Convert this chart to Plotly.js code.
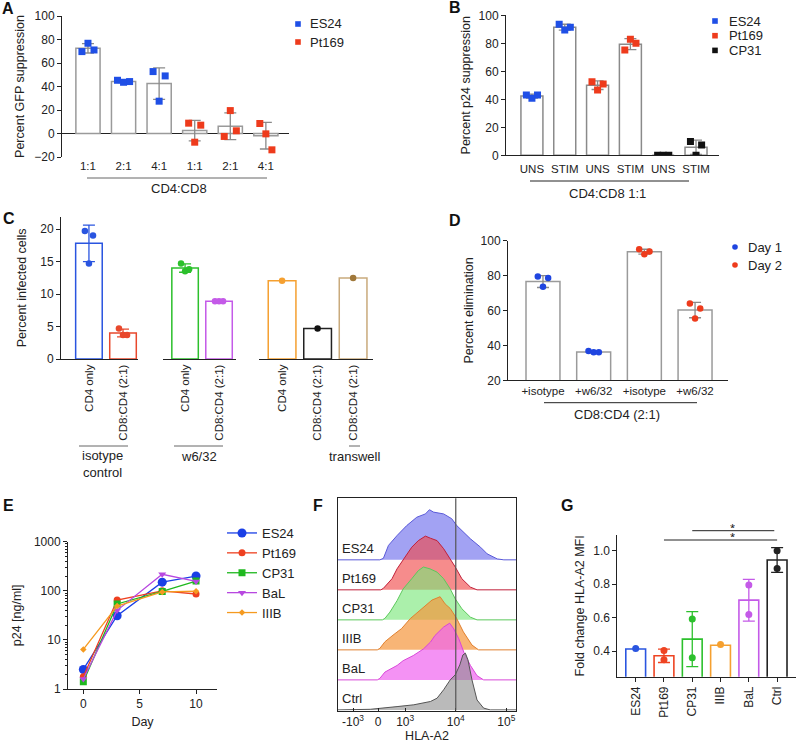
<!DOCTYPE html>
<html><head><meta charset="utf-8">
<script src="https://cdn.plot.ly/plotly-3.0.1.min.js"></script>
<style>html,body{margin:0;padding:0;background:#fff}#chart{width:796px;height:747px}</style>
</head><body><div id="chart"></div>
<script>
// ---------------- DATA ----------------
// Panel A
const aCats   = ['1:1','2:1','4:1','1:1','2:1','4:1'];
const aGroup  = ['ES24','ES24','ES24','Pt169','Pt169','Pt169'];
const aSeries = ['ES24','Pt169'];
const aMean   = [72.5, 44.3, 42.5, 2.5, 6.2, -1.9];
const aSD     = [4.0, 1.0, 13.4, 8.7, 11.4, 11.3];
const aPoints = [[69.7,76.8,71.1],[45.3,43.6,44.2],[52.7,27.5,49.0],[8.8,-7.4,7.1],[-2.5,19.5,2.3],[8.5,-0.3,-13.9]];
// Panel B
const bCats   = ['UNS','STIM','UNS','STIM','UNS','STIM'];
const bGroup  = ['ES24','ES24','Pt169','Pt169','CP31','CP31'];
const bSeries = ['ES24','Pt169','CP31'];
const bMean   = [42.3, 91.5, 50.1, 79.4, 0, 5.7];
const bSD     = [1.4, 2.1, 3.1, 3.9, 0, 5.1];
const bPoints = [[43.1,40.7,43.1],[93.6,89.5,91.4],[52.6,46.7,51.0],[75.2,82.9,80.0],[0,0,0],[9.8,0,7.4]];
// Panel C
const cCats   = ['CD4 only','CD8:CD4 (2:1)','CD4 only','CD8:CD4 (2:1)','CD4 only','CD8:CD4 (2:1)','CD8:CD4 (2:1)'];
const cGroup  = ['isotype control','w6/32','transwell'];
const cOfBar  = ['isotype control','isotype control','w6/32','w6/32','transwell','transwell','transwell'];
const cMean   = [17.8, 4.0, 14.0, 8.9, 12.05, 4.7, 12.45];
const cSD     = [2.8, 0.6, 0.65, 0, 0, 0, 0];
const cPoints = [[19.7,14.7,19.0],[4.7,3.7,3.7],[14.7,13.5,13.8],[8.9,8.9,8.9],[12.05],[4.7],[12.45]];
// Panel D
const dCats   = ['+isotype','+w6/32','+isotype','+w6/32'];
const dDay    = ['Day 1','Day 1','Day 2','Day 2'];
const dSeries = ['Day 1','Day 2'];
const dMean   = [76.5, 36.2, 93.6, 60.2];
const dSD     = [3.4, 0.4, 1.4, 4.4];
const dPoints = [[79.4,73.5,78.6],[36.7,36.0,36.0],[95.0,92.2,93.7],[64.0,55.4,61.1]];
// Panel E
const eDays   = [0, 3, 7, 10];
const eNames  = ['ES24','Pt169','CP31','BaL','IIIB'];
const eES24   = [2.5, 31, 150, 200];
const ePt169  = [1.78, 65, 100, 86];
const eCP31   = [1.4, 54, 97, 158];
const eBaL    = [1.6, 40, 217, 155];
const eIIIB   = [6.4, 49, 95, 98];
// Panel F (x: log10 HLA-A2 display units, h: normalized to mode, in row units)
const fNames  = ['ES24','Pt169','CP31','IIIB','BaL','Ctrl'];
const fES24x  = [1.673,2.50,2.57,2.67,2.84,3.03,3.23,3.40,3.48,3.56,3.76,3.92,4.02,4.16,4.29,4.49,4.62,4.82,4.95,5.19];
const fES24h  = [0,0,0.05,0.48,0.81,1.14,1.42,1.53,1.67,1.59,1.53,1.37,1.14,0.92,0.70,0.42,0.20,0.03,0,0];
const fPt169x = [1.673,2.52,2.57,2.74,2.84,2.97,3.13,3.26,3.40,3.50,3.63,3.76,3.89,3.99,4.12,4.29,4.42,5.19];
const fPt169h = [0,0,0.05,0.37,0.70,1.03,1.42,1.64,1.79,1.72,1.64,1.37,1.03,0.76,0.37,0.09,0,0];
const fCP31x  = [1.673,2.55,2.60,2.70,2.84,2.96,3.13,3.26,3.36,3.49,3.63,3.76,3.89,3.99,4.12,4.29,4.42,5.19];
const fCP31h  = [0,0,0.05,0.26,0.64,1.03,1.37,1.64,1.76,1.70,1.59,1.37,1.03,0.70,0.37,0.09,0,0];
const fIIIBx  = [1.673,2.45,2.50,2.60,2.76,2.93,3.10,3.26,3.40,3.53,3.69,3.79,3.89,4.02,4.15,4.32,4.45,5.19];
const fIIIBh  = [0,0,0.05,0.27,0.49,0.71,1.04,1.27,1.48,1.66,1.77,1.53,1.38,1.04,0.60,0.16,0,0];
const fBaLx   = [1.673,2.45,2.50,2.60,2.84,2.96,3.16,3.36,3.50,3.59,3.76,3.88,3.96,4.06,4.16,4.29,4.42,4.55,5.19];
const fBaLh   = [0,0,0.05,0.26,0.48,0.64,0.81,1.03,1.26,1.48,1.76,1.89,1.70,1.37,0.92,0.48,0.14,0,0];
const fCtrlx  = [1.673,2.31,2.84,3.17,3.50,3.63,3.76,3.89,3.99,4.08,4.14,4.19,4.24,4.32,4.42,4.55,4.68,5.19];
const fCtrlh  = [0,0.02,0.11,0.17,0.28,0.39,0.67,1.00,1.17,1.50,1.83,1.89,1.67,1.00,0.33,0.06,0,0];
const fTickVals = [1.97, 2.465, 3, 4, 5];
const fTickText = ['-10<sup>3</sup>','0','10<sup>3</sup>','10<sup>4</sup>','10<sup>5</sup>'];
const fGate   = 4;
// Panel G
const gCats   = ['ES24','Pt169','CP31','IIIB','BaL','Ctrl'];
const gMean   = [0.413, 0.372, 0.472, 0.435, 0.705, 0.945];
const gSD     = [0, 0.04, 0.165, 0, 0.125, 0.074];
const gPoints = [[0.416],[0.404,0.349],[0.593,0.36],[0.44],[0.796,0.619],[1.0,0.895]];

// ---------------- STYLE / LAYOUT ----------------
const W = 796, H = 747;
const px = v => v / W, py = v => 1 - v / H;
const FONT = 'Liberation Sans, Arial, sans-serif';
const INK = '#222';
const JIT3 = [-0.17, 0, 0.17];
const jit = (n, j) => n === 3 ? JIT3[j] : 0;
const idx = arr => arr.map((_, i) => i);
const colA = {ES24:'#1f4fe6', Pt169:'#ee3b1c', CP31:'#111111'};
const colD = {'Day 1':'#1f45e0', 'Day 2':'#ee3b1c'};
const cLine = ['#2a55e0','#e8482c','#2cc02c','#c45ae8','#f5a030','#222222','#c9aa7c'];
const cPt   = ['#2a55e0','#e8482c','#2cc02c','#c45ae8','#f5a030','#111111','#a0783a'];
const gCol  = ['#2a55e0','#ee4422','#2cc02c','#f5a030','#c45ae8','#222222'];
const eCol  = {ES24:'#1a3fe6', Pt169:'#ee4020', CP31:'#1fb81f', BaL:'#b848e0', IIIB:'#f59a20'};
const eSym  = {ES24:'circle', Pt169:'circle', CP31:'square', BaL:'triangle-down', IIIB:'diamond'};
const eSize = {ES24:9, Pt169:7, CP31:7, BaL:7, IIIB:5};
const fFill = ['rgba(105,105,235,0.62)','rgba(240,70,70,0.62)','rgba(120,230,120,0.62)','rgba(245,150,60,0.7)','rgba(240,100,240,0.7)','rgba(140,140,140,0.6)'];
const fLine = ['#5a5ad8','#c0203a','#5cc85c','#e08030','#d848d8','#555555'];

const traces = [];
const errStyle = (arr, color) => ({type:'data', array:arr, visible:true, color:color, thickness:1.3, width:6});

// Panel A
traces.push({type:'bar', x:idx(aCats), y:aMean, width:0.68, xaxis:'x', yaxis:'y',
  marker:{color:'white', line:{color:'#9a9a9a', width:1.5}}, error_y:errStyle(aSD,'#8a8a8a'),
  showlegend:false, hoverinfo:'skip'});
aSeries.forEach(s => {
  const xs = [], ys = [];
  aGroup.forEach((g,i) => { if (g===s) aPoints[i].forEach((v,j)=>{ xs.push(i+jit(aPoints[i].length,j)); ys.push(v); }); });
  traces.push({type:'scatter', mode:'markers', name:s, x:xs, y:ys, xaxis:'x', yaxis:'y', showlegend:false,
    marker:{symbol:'square', size:7, color:colA[s]}, hoverinfo:'skip'});
});
// Panel B
traces.push({type:'bar', x:idx(bCats), y:bMean, width:0.67, xaxis:'x2', yaxis:'y2',
  marker:{color:'white', line:{color:'#8a8a8a', width:1.5}}, error_y:errStyle(bSD,'#8a8a8a'),
  showlegend:false, hoverinfo:'skip'});
bSeries.forEach(s => {
  const xs = [], ys = [];
  bGroup.forEach((g,i) => { if (g===s) bPoints[i].forEach((v,j)=>{ xs.push(i+jit(bPoints[i].length,j)); ys.push(v); }); });
  traces.push({type:'scatter', mode:'markers', name:s, x:xs, y:ys, xaxis:'x2', yaxis:'y2', showlegend:false,
    marker:{symbol:'square', size:7, color:colA[s]}, hoverinfo:'skip'});
});
// Panel C
const cAxes = ['x3','x4','x5'];
const cTicks = {x3:[], x4:[], x5:[]};
cCats.forEach((c,i) => {
  const ax = cAxes[cGroup.indexOf(cOfBar[i])];
  const pos = cTicks[ax].length;
  cTicks[ax].push(c);
  traces.push({type:'bar', x:[pos], y:[cMean[i]], width:0.78, xaxis:ax, yaxis:'y3',
    marker:{color:'white', line:{color:cLine[i], width:1.5}},
    error_y:Object.assign(errStyle([cSD[i]], cLine[i]), {visible:cSD[i]>0}), showlegend:false, hoverinfo:'skip'});
  traces.push({type:'scatter', mode:'markers', x:cPoints[i].map((v,j)=>pos+jit(cPoints[i].length,j)*0.7), y:cPoints[i],
    xaxis:ax, yaxis:'y3', marker:{size:6.5, color:cPt[i]}, showlegend:false, hoverinfo:'skip'});
});
// Panel D
traces.push({type:'bar', x:idx(dCats), y:dMean, width:0.67, xaxis:'x6', yaxis:'y6',
  marker:{color:'white', line:{color:'#9a9a9a', width:1.5}}, error_y:errStyle(dSD,'#8a8a8a'),
  showlegend:false, hoverinfo:'skip'});
dSeries.forEach(s => {
  const xs = [], ys = [];
  dDay.forEach((g,i) => { if (g===s) dPoints[i].forEach((v,j)=>{ xs.push(i+jit(dPoints[i].length,j)*0.6); ys.push(v); }); });
  traces.push({type:'scatter', mode:'markers', name:s, x:xs, y:ys, xaxis:'x6', yaxis:'y6', showlegend:false,
    marker:{symbol:'circle', size:6.5, color:colD[s]}, hoverinfo:'skip'});
});
// Panel E
const eSeries = {ES24:eES24, Pt169:ePt169, CP31:eCP31, BaL:eBaL, IIIB:eIIIB};
eNames.forEach(s => {
  traces.push({type:'scatter', mode:'lines+markers', name:s, x:eDays, y:eSeries[s], xaxis:'x7', yaxis:'y7', legend:'legend',
    line:{color:eCol[s], width:1.3}, marker:{symbol:eSym[s], size:eSize[s], color:eCol[s]}});
});
// Panel F
const fXs = [fES24x,fPt169x,fCP31x,fIIIBx,fBaLx,fCtrlx];
const fHs = [fES24h,fPt169h,fCP31h,fIIIBh,fBaLh,fCtrlh];
fNames.forEach((s,i) => {
  const off = fNames.length - 1 - i;
  traces.push({type:'scatter', mode:'lines', x:fXs[i], y:fHs[i].map(h=>h+off), fill:'toself', fillcolor:fFill[i],
    line:{color:fLine[i], width:1}, xaxis:'x8', yaxis:'y8', showlegend:false, hoverinfo:'skip'});
});
// Panel G
gCats.forEach((c,i) => {
  traces.push({type:'bar', x:[i], y:[gMean[i]], width:0.7, xaxis:'x9', yaxis:'y9',
    marker:{color:'white', line:{color:gCol[i], width:1.6}},
    error_y:Object.assign(errStyle([gSD[i]], gCol[i]), {visible:gSD[i]>0}), showlegend:false, hoverinfo:'skip'});
  traces.push({type:'scatter', mode:'markers', x:gPoints[i].map(()=>i), y:gPoints[i], xaxis:'x9', yaxis:'y9',
    marker:{size:7, color:gCol[i]}, showlegend:false, hoverinfo:'skip'});
});

// ---------------- AXES ----------------
const base = {showgrid:false, zeroline:false, showline:true, linecolor:INK, linewidth:1,
  ticks:'outside', ticklen:4, tickcolor:INK, tickwidth:1, tickfont:{size:12, color:INK, family:FONT}};
const catX = (dom, anchor, range, ticktext, extra) => Object.assign({}, base, {domain:dom, anchor:anchor, range:range,
  tickvals:idx(ticktext), ticktext:ticktext, ticks:'', tickfont:{size:11.5, color:INK, family:FONT}}, extra||{});
const ytitle = (t, st) => ({text:t, standoff:st, font:{size:12.5, color:INK, family:FONT}});

const layout = {
  width:W, height:H, margin:{l:0,r:0,t:0,b:0}, paper_bgcolor:'white', plot_bgcolor:'rgba(0,0,0,0)',
  font:{family:FONT, color:INK}, barmode:'overlay',
  // A
  xaxis:  catX([px(62),px(289)], 'y', [-0.73,5.65], aCats, {showline:false}),
  yaxis:  Object.assign({}, base, {domain:[py(157),py(16)], anchor:'x', range:[-20,100], dtick:20,
           zeroline:true, zerolinecolor:INK, zerolinewidth:1, title:ytitle('Percent GFP suppression', 6)}),
  // B
  xaxis2: catX([px(506),px(719)], 'y2', [-0.79,5.7], bCats, {ticklabelstandoff:3}),
  yaxis2: Object.assign({}, base, {domain:[py(155.3),py(15.3)], anchor:'x2', range:[0,100], dtick:20,
           title:ytitle('Percent p24 suppression', 5)}),
  // C
  xaxis3: catX([px(61),px(138)], 'y3', [-0.82,1.44], cTicks.x3, {tickangle:-90}),
  xaxis4: catX([px(163),px(236)], 'y3', [-0.65,1.5], cTicks.x4, {tickangle:-90}),
  xaxis5: catX([px(259),px(373)], 'y3', [-0.65,2.56], cTicks.x5, {tickangle:-90}),
  yaxis3: Object.assign({}, base, {domain:[py(359),py(216.7)], anchor:'x3', range:[0,21.9], dtick:5,
           title:ytitle('Percent infected cells', 10)}),
  // D
  xaxis6: catX([px(508),px(728)], 'y6', [-0.69,3.65], dCats),
  yaxis6: Object.assign({}, base, {domain:[py(380.3),py(240.5)], anchor:'x6', range:[20,100], dtick:20,
           title:ytitle('Percent elimination', 4)}),
  // E
  xaxis7: Object.assign({}, base, {domain:[px(68),px(217)], anchor:'y7', range:[-1.36,11.86], dtick:5, tick0:0,
           title:{text:'Day', font:{size:12.5, color:INK, family:FONT}, standoff:6}}),
  yaxis7: Object.assign({}, base, {domain:[py(689),py(541.7)], anchor:'x7', type:'log', range:[0,3],
           tickvals:[1,10,100,1000], ticktext:['1','10','100','1000'],
           minor:{ticks:'outside', ticklen:2, tickcolor:INK, dtick:'D1'}, title:ytitle('p24 [ng/ml]', 9)}),
  // F
  xaxis8: Object.assign({}, base, {domain:[px(338),px(516)], anchor:'y8', range:[1.673,5.19], mirror:true,
           tickvals:fTickVals, ticktext:fTickText, ticks:'inside', ticklen:3,
           title:{text:'HLA-A2', font:{size:12.5, color:INK, family:FONT}, standoff:2}}),
  yaxis8: Object.assign({}, base, {domain:[py(710.5),py(498.3)], anchor:'x8', range:[-0.02,7.05], mirror:true,
           ticks:'', showticklabels:false}),
  // G
  xaxis9: catX([px(617.3),px(795.5)], 'y9', [-0.65,5.65], gCats, {tickangle:-90, ticks:'outside', ticklen:4, tickfont:{size:12, color:INK, family:FONT}}),
  yaxis9: Object.assign({}, base, {domain:[py(676.7),py(535)], anchor:'x9', range:[0.247,1.095],
           tickvals:[0.4,0.6,0.8,1.0], ticktext:['0.4','0.6','0.8','1.0'], title:ytitle('Fold change HLA-A2 MFI', 5)}),
  // legend for E
  legend: {x:px(222), y:py(518), xanchor:'left', yanchor:'top', font:{size:13, family:FONT, color:INK}, bgcolor:'rgba(0,0,0,0)', itemwidth:30, tracegroupgap:0},
  shapes: [], annotations: []
};

const hline = (x0,x1,y,color) => ({type:'line', xref:'paper', yref:'paper', x0:px(x0), x1:px(x1), y0:py(y), y1:py(y), line:{color:color||INK, width:1}});
const note = (text, x, y, size, opts) => Object.assign({text:text, xref:'paper', yref:'paper', x:px(x), y:py(y),
  showarrow:false, xanchor:'center', yanchor:'middle', font:{size:size, family:FONT, color:INK}}, opts||{});

// hand-placed legends for A, B, D (symbol + label)
const legendKey = (names, colors, kind, xSym, xText, y0, dy) => names.forEach((s,k) => {
  const cx = xSym, cy = y0 + k*dy, r = 2.8;
  layout.shapes.push({type:kind==='square'?'rect':'circle', xref:'paper', yref:'paper',
    x0:px(cx-r), x1:px(cx+r), y0:py(cy+r), y1:py(cy-r), fillcolor:colors[s], line:{width:0}});
  layout.annotations.push(note(s, xText, cy, 13, {xanchor:'left'}));
});
legendKey(aSeries, colA, 'square', 298, 308, 24, 18);
legendKey(bSeries, colA, 'square', 715, 727, 21, 14.7);
legendKey(dSeries, colD, 'circle', 735, 746, 247, 18);

// brackets & group labels
layout.shapes.push(hline(87,267,178,'#666'), hline(530,689,181), hline(544,697,402.7),
  hline(79,128,446,'#666'), hline(174,223,446,'#666'), hline(349,360,446,'#666'));
layout.annotations.push(note('CD4:CD8',179,188.5,13), note('CD4:CD8 1:1',607,193.5,13), note('CD8:CD4 (2:1)',617,414.5,13),
  note('isotype<br>control',102,464,13), note('w6/32',199,456,13), note('transwell',354,456,13));
// panel letters
[['A',8,8],['B',455,7],['C',9,218],['D',455,220],['E',8,505],['F',318,505],['G',567,505]].forEach(([t,x,y]) =>
  layout.annotations.push(note('<b>'+t+'</b>', x, y, 16, {font:{size:16, family:FONT, color:'#111'}})));
// F row labels
fNames.forEach((s,i) => {
  const off = fNames.length - 1 - i;
  layout.annotations.push({text:s, xref:'x8', yref:'y8', x:1.72, y:off+0.06, xanchor:'left', yanchor:'bottom',
    showarrow:false, font:{size:13, family:FONT, color:INK}});
});
// F reference gate line
layout.shapes.push({type:'line', xref:'x8', yref:'paper', x0:fGate, x1:fGate, y0:py(710.5), y1:py(498.3), line:{color:'#555', width:1.2}});
// G significance
layout.shapes.push({type:'line', xref:'x9', yref:'paper', x0:2, x1:4.9, y0:py(530.7), y1:py(530.7), line:{color:INK, width:1}},
                   {type:'line', xref:'x9', yref:'paper', x0:1, x1:5, y0:py(540), y1:py(540), line:{color:INK, width:1}});
layout.annotations.push({text:'*', xref:'x9', yref:'paper', x:3.41, y:py(530), yanchor:'bottom', height:7, valign:'top', showarrow:false, font:{size:13, family:FONT, color:INK}},
                        {text:'*', xref:'x9', yref:'paper', x:3.41, y:py(539.3), yanchor:'bottom', height:7, valign:'top', showarrow:false, font:{size:13, family:FONT, color:INK}});

Plotly.newPlot('chart', traces, layout, {staticPlot:true, displayModeBar:false});
</script></body></html>
